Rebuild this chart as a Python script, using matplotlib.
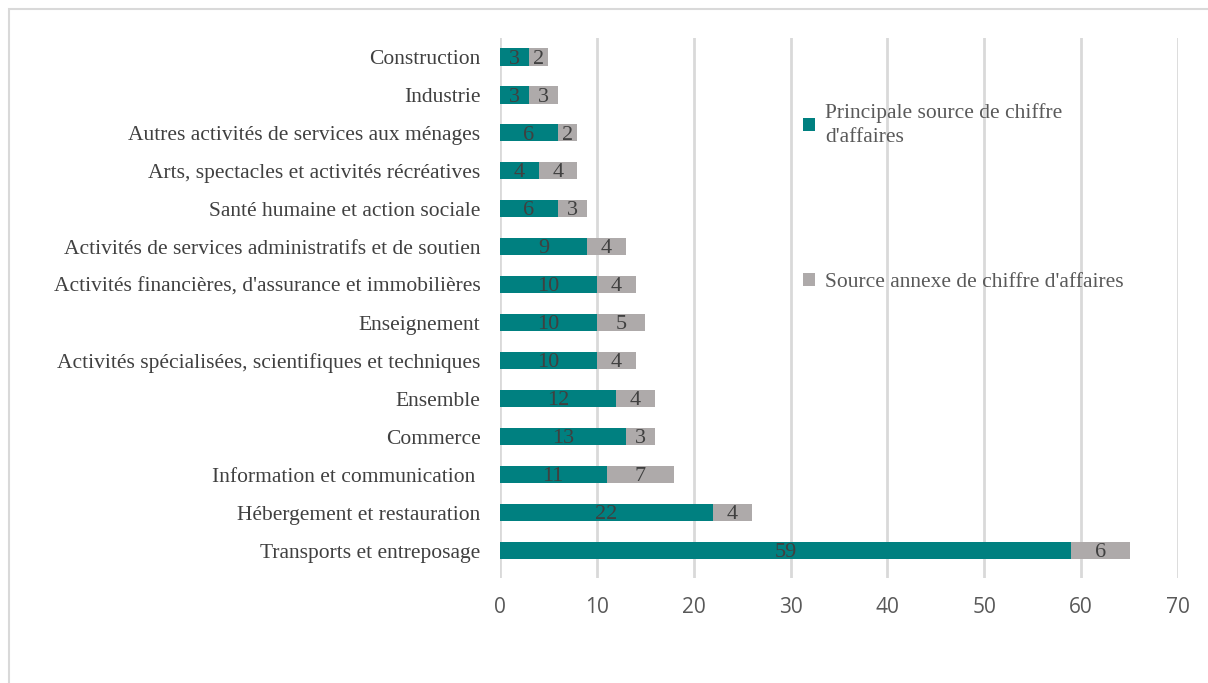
import matplotlib.pyplot as plt
from matplotlib.patches import Rectangle

categories = [
    "Transports et entreposage",
    "Hébergement et restauration",
    "Information et communication ",
    "Commerce",
    "Ensemble",
    "Activités spécialisées, scientifiques et techniques",
    "Enseignement",
    "Activités financières, d'assurance et immobilières",
    "Activités de services administratifs et de soutien",
    "Santé humaine et action sociale",
    "Arts, spectacles et activités récréatives",
    "Autres activités de services aux ménages",
    "Industrie",
    "Construction",
]
principale = [59, 22, 11, 13, 12, 10, 10, 10, 9, 6, 4, 6, 3, 3]
annexe = [6, 4, 7, 3, 4, 4, 5, 4, 4, 3, 4, 2, 3, 2]
series_names = ["Principale source de chiffre\nd'affaires",
                "Source annexe de chiffre d'affaires"]

TEAL = "#008080"
GREY = "#AEAAAA"
TXT = "#404040"
SERIF = ["Liberation Serif", "DejaVu Serif"]

fig = plt.figure(figsize=(12.08, 6.83), dpi=100)
fig.patches.append(Rectangle((9 / 1208, -0.05), 1.1, 1 - 9 / 683 + 0.05,
                             transform=fig.transFigure, fill=False,
                             edgecolor="#D9D9D9", linewidth=1.5))
ax = fig.add_axes([500 / 1208, 1 - 578 / 683, 678 / 1208, 540 / 683])

y = range(len(categories))
b1 = ax.barh(y, principale, height=0.45, color=TEAL, label=series_names[0], zorder=3)
b2 = ax.barh(y, annexe, left=principale, height=0.45, color=GREY,
             label=series_names[1], zorder=3)

# value labels sit in the middle of each segment, nudged down a touch
for bars in (b1, b2):
    texts = ax.bar_label(bars, labels=[str(int(b.get_width())) for b in bars],
                         label_type="center", color=TXT, fontsize=16,
                         family=SERIF, zorder=4)
    for t in texts:
        t.set_y(t.get_position()[1] - 1.5)

ax.set_xlim(0, 70)
ax.set_ylim(-0.72, 13.5)
ax.set_xticks(range(0, 71, 10))
ax.set_yticks(list(y))
ax.set_yticklabels(categories, family=SERIF, fontsize=15.5, color=TXT)
ax.tick_params(axis="x", labelsize=15, labelcolor="#595959", length=0, pad=14)
ax.tick_params(axis="y", length=0, pad=14)
for lab in ax.get_xticklabels():
    lab.set_family(["Open Sans", "DejaVu Sans"])
ax.grid(axis="x", color="#D9D9D9", linewidth=2, zorder=0)
for s in ax.spines.values():
    s.set_visible(False)

leg = ax.legend(handles=[b1, b2], loc="upper left",
                bbox_to_anchor=(784 / 1208, 1 - 84 / 683),
                bbox_transform=fig.transFigure, frameon=False,
                prop={"family": SERIF, "size": 15.5}, labelcolor="#595959",
                handlelength=0.55, handleheight=0.55, handletextpad=0.45,
                labelspacing=5.85)
for t in leg.get_texts():
    t.set_linespacing(1.35)

fig.savefig("out.png", dpi=100)
